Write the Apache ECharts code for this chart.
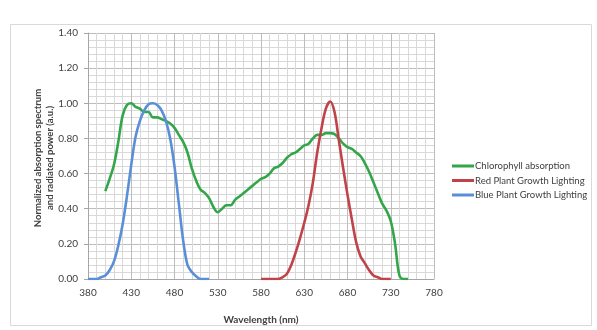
<!DOCTYPE html>
<html>
<head>
<meta charset="utf-8">
<script src="https://cdn.jsdelivr.net/npm/echarts@6/dist/echarts.min.js"></script>
<style>
  html, body { margin: 0; padding: 0; background: #fff; }
  #chart { width: 597px; height: 330px; }
</style>
</head>
<body>
<div id="chart"></div>
<script>
// Wavelength samples (nm) and normalized values for each curve
const chlorophyllNm = [400,405,410,415,420,425,430,435,440,445,450,455,460,465,470,475,480,485,490,495,500,505,510,515,520,525,530,535,540,545,550,555,560,565,570,575,580,585,590,595,600,605,610,615,620,625,630,635,640,645,650,655,660,665,670,675,680,685,690,695,700,705,710,715,720,725,730,735,740,745,750];
const chlorophyllVal = [0.50,0.57,0.65,0.78,0.93,0.99,1.00,0.98,0.97,0.95,0.95,0.92,0.92,0.91,0.90,0.885,0.86,0.82,0.78,0.72,0.63,0.56,0.51,0.49,0.46,0.41,0.38,0.40,0.42,0.42,0.45,0.47,0.49,0.51,0.53,0.55,0.57,0.58,0.60,0.63,0.64,0.66,0.69,0.71,0.72,0.74,0.76,0.77,0.80,0.82,0.82,0.83,0.83,0.825,0.80,0.77,0.75,0.74,0.72,0.70,0.66,0.61,0.55,0.49,0.43,0.39,0.33,0.20,0.02,0,0];

const redNm = [580,585,590,595,600,605,610,615,620,625,630,635,640,645,650,655,660,665,670,675,680,685,690,695,700,705,710,715,720,725,730];
const redVal = [0,0,0,0,0,0.01,0.03,0.08,0.15,0.23,0.32,0.42,0.55,0.72,0.86,0.97,1.01,0.95,0.79,0.63,0.48,0.34,0.21,0.13,0.09,0.05,0.02,0.01,0,0,0];

const blueNm = [380,385,390,395,400,405,410,415,420,425,430,435,440,445,450,455,460,465,470,475,480,485,490,495,500,505,510,515,520];
const blueVal = [0,0,0,0.01,0.02,0.05,0.10,0.19,0.31,0.47,0.65,0.81,0.90,0.96,0.995,1.00,0.99,0.96,0.90,0.80,0.64,0.43,0.22,0.08,0.04,0.015,0,0,0];

const seriesNames = ['Chlorophyll absorption', 'Red Plant Growth Lighting', 'Blue Plant Growth Lighting'];
const seriesColors = ['#33a64a', '#c0434a', '#5a8fd8'];
const yTitle = 'Normalized absorption spectrum\nand radiated power (a.u.)';
const xTitle = 'Wavelength (nm)';

const pairs = (xs, ys) => xs.map((x, i) => [x, ys[i]]);

const FONT = "Lato, 'Open Sans', 'Liberation Sans', sans-serif";
const TXT = '#404040';

const chart = echarts.init(document.getElementById('chart'), null, { renderer: 'canvas' });

const lineSeries = (name, data, color) => ({
  name,
  type: 'line',
  data,
  smooth: 0.35,
  showSymbol: false,
  symbol: 'none',
  lineStyle: { width: 2.6, color },
  itemStyle: { color },
  z: 3
});

chart.setOption({
  animation: false,
  backgroundColor: '#ffffff',
  textStyle: { fontFamily: FONT },
  graphic: [
    {
      type: 'rect',
      shape: { x: 10.5, y: 24.5, width: 581, height: 301 },
      style: { fill: 'none', stroke: '#d9d9d9', lineWidth: 1 },
      silent: true
    },
    {
      // vertical axis title, two centred lines
      type: 'text',
      x: 44,
      y: 158,
      rotation: Math.PI / 2,
      style: {
        text: yTitle,
        fontFamily: FONT,
        fontSize: 9.5,
        fontWeight: 'bold',
        fill: TXT,
        align: 'center',
        verticalAlign: 'middle',
        lineHeight: 12
      },
      silent: true
    }
  ],
  grid: { left: 88, top: 33, width: 346, height: 246, containLabel: false },
  legend: {
    orient: 'vertical',
    left: 447,
    top: 156,
    itemWidth: 22,
    itemHeight: 3,
    itemGap: 4.5,
    icon: 'rect',
    textStyle: { fontFamily: FONT, fontSize: 9.5, color: TXT, padding: [0, 0, 0, -4] },
    data: seriesNames
  },
  xAxis: {
    type: 'value',
    min: 380,
    max: 780,
    interval: 50,
    name: xTitle,
    nameLocation: 'middle',
    nameGap: 36,
    nameTextStyle: { fontFamily: FONT, fontSize: 10, fontWeight: 'bold', color: TXT },
    axisLine: { show: true, lineStyle: { color: '#a6a6a6', width: 1 } },
    axisTick: { show: false },
    axisLabel: { fontFamily: FONT, fontSize: 10, color: TXT, margin: 9 },
    splitLine: { show: true, lineStyle: { color: '#bdbdbd', width: 1 } },
    minorTick: { show: false, splitNumber: 5 },
    minorSplitLine: { show: true, lineStyle: { color: '#d9d9d9', width: 1 } }
  },
  yAxis: {
    type: 'value',
    min: 0,
    max: 1.4,
    interval: 0.2,
    axisLine: { show: true, lineStyle: { color: '#a6a6a6', width: 1 } },
    axisTick: { show: true, length: 4, lineStyle: { color: '#a6a6a6' } },
    axisLabel: { fontFamily: FONT, fontSize: 10, color: TXT, margin: 10, formatter: v => v.toFixed(2) },
    splitLine: { show: true, lineStyle: { color: '#bdbdbd', width: 1 } },
    minorTick: { show: false, splitNumber: 5 },
    minorSplitLine: { show: true, lineStyle: { color: '#d9d9d9', width: 1 } }
  },
  series: [
    lineSeries(seriesNames[0], pairs(chlorophyllNm, chlorophyllVal), seriesColors[0]),
    lineSeries(seriesNames[1], pairs(redNm, redVal), seriesColors[1]),
    lineSeries(seriesNames[2], pairs(blueNm, blueVal), seriesColors[2])
  ]
});
</script>
</body>
</html>
